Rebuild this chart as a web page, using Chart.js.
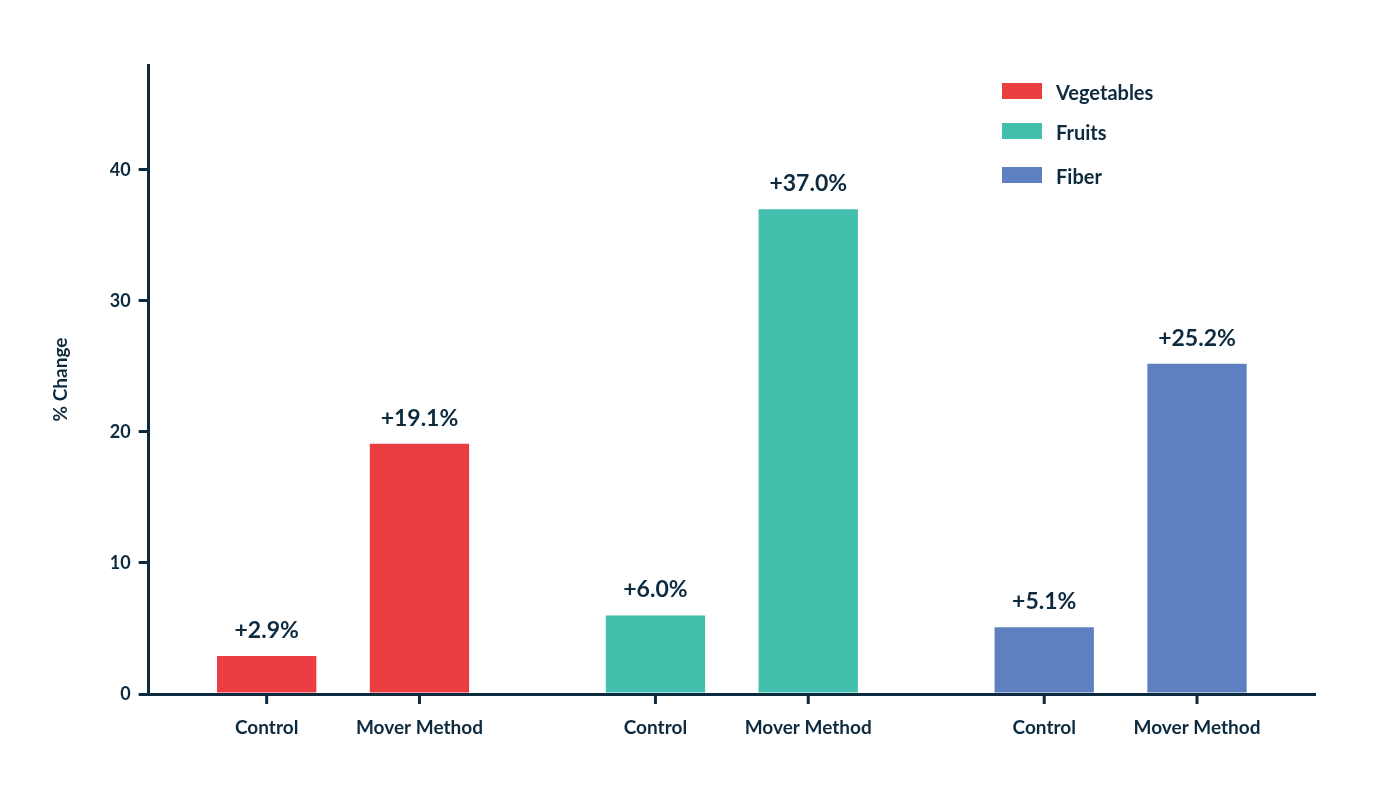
<!DOCTYPE html>
<html>
<head>
<meta charset="utf-8">
<script src="https://cdn.jsdelivr.net/npm/chart.js@4"></script>
<style>
  body { margin: 0; background: #fff; }
  #wrap { width: 1390px; height: 802px; }
</style>
</head>
<body>
<div id="wrap"><canvas id="chart"></canvas></div>
<script>
const groups = ['Vegetables', 'Fruits', 'Fiber'];
const barNames = ['Control', 'Mover Method'];
const controlValues = [2.9, 6.0, 5.1];
const moverValues = [19.1, 37.0, 25.2];
const groupColors = ['#ea3e43', '#44bfad', '#5f80c0'];
const yTicks = [0, 10, 20, 30, 40];

const navy = '#0d2a3f';
const font = 'Lato, "Open Sans", sans-serif';

const labelPlugin = {
  id: 'labels',
  afterDatasetsDraw(chart) {
    const ctx = chart.ctx;
    const bottom = chart.chartArea.bottom;
    ctx.save();
    chart.data.datasets.forEach((ds, di) => {
      chart.getDatasetMeta(di).data.forEach((bar, i) => {
        ctx.fillStyle = navy;
        ctx.textAlign = 'center';
        ctx.textBaseline = 'alphabetic';
        ctx.font = 'bold 23px ' + font;
        ctx.fillText('+' + ds.data[i].toFixed(1) + '%', bar.x, bar.y - 18);
        ctx.font = 'bold 19px ' + font;
        ctx.fillText(barNames[di], bar.x, bottom + 40);
        ctx.strokeStyle = navy;
        ctx.lineWidth = 3;
        ctx.beginPath();
        ctx.moveTo(bar.x, bottom);
        ctx.lineTo(bar.x, bottom + 10);
        ctx.stroke();
      });
    });
    // legend
    const lx = 1002, ly = [92, 132, 176];
    groups.forEach((g, i) => {
      ctx.fillStyle = groupColors[i];
      ctx.fillRect(lx, ly[i] - 9, 40, 16);
      ctx.fillStyle = navy;
      ctx.font = 'bold 20px ' + font;
      ctx.textAlign = 'left';
      ctx.textBaseline = 'middle';
      ctx.fillText(g, lx + 54, ly[i] + 2);
    });
    ctx.restore();
  }
};

new Chart(document.getElementById('chart'), {
  type: 'bar',
  data: {
    labels: groups,
    datasets: [
      { label: barNames[0], data: controlValues, backgroundColor: groupColors },
      { label: barNames[1], data: moverValues, backgroundColor: groupColors }
    ]
  },
  options: {
    responsive: true,
    maintainAspectRatio: false,
    animation: false,
    layout: { padding: { left: 45, right: 75, top: 65, bottom: 108 } },
    categoryPercentage: 0.786,
    barPercentage: 0.65,
    plugins: { legend: { display: false }, tooltip: { enabled: false } },
    scales: {
      x: {
        ticks: { display: false },
        grid: { display: false, drawTicks: false },
        border: { color: navy, width: 3 }
      },
      y: {
        min: 0,
        max: 48,
        afterBuildTicks(axis) { axis.ticks = yTicks.map(v => ({ value: v })); },
        ticks: { color: navy, font: { family: font, size: 18, weight: 'bold' }, padding: 8 },
        grid: { display: true, drawOnChartArea: false, drawTicks: true, tickLength: 10, color: navy, lineWidth: 3 },
        border: { color: navy, width: 3 },
        title: { display: true, text: '% Change', color: navy, font: { family: font, size: 19, weight: 'bold' }, padding: { bottom: 30 } }
      }
    }
  },
  plugins: [labelPlugin]
});
</script>
</body>
</html>
